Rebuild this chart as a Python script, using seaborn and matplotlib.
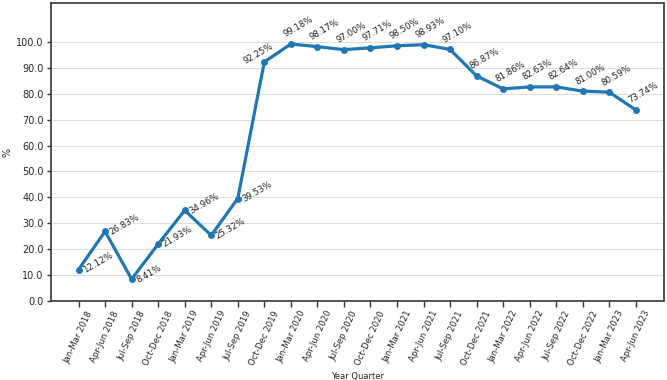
import matplotlib
matplotlib.use("Agg")
import matplotlib.pyplot as plt
import seaborn as sns
import pandas as pd
from matplotlib.ticker import FormatStrFormatter

quarters = ["Jan-Mar 2018", "Apr-Jun 2018", "Jul-Sep 2018", "Oct-Dec 2018",
            "Jan-Mar 2019", "Apr-Jun 2019", "Jul-Sep 2019", "Oct-Dec 2019",
            "Jan-Mar 2020", "Apr-Jun 2020", "Jul-Sep 2020", "Oct-Dec 2020",
            "Jan-Mar 2021", "Apr-Jun 2021", "Jul-Sep 2021", "Oct-Dec 2021",
            "Jan-Mar 2022", "Apr-Jun 2022", "Jul-Sep 2022", "Oct-Dec 2022",
            "Jan-Mar 2023", "Apr-Jun 2023"]
values = [12.12, 26.83, 8.41, 21.93, 34.96, 25.32, 39.53, 92.25,
          99.18, 98.17, 97.00, 97.71, 98.50, 98.93, 97.10, 86.87,
          81.86, 82.63, 82.64, 81.00, 80.59, 73.74]

df = pd.DataFrame({"quarter": quarters, "value": values})

sns.set_theme(style="whitegrid")
plt.rcParams['font.family'] = ['DejaVu Sans']

fig = plt.figure(figsize=(6.67, 3.8), dpi=100)
ax = fig.add_axes([0.076, 0.208, 0.919, 0.784])

x = list(range(len(quarters)))
sns.lineplot(x=x, y=df["value"], ax=ax, color="#1f77b4", linewidth=2.3,
             marker="o", markersize=5, markeredgewidth=0)

prev = None
for xi, v in zip(x, values):
    if v < 50:
        off = (4.6, -2.4)
    elif prev is not None and v - prev > 30:
        off = (-13.5, -1.5)
    else:
        off = (-4.0, 4.7)
    ax.annotate(f"{v:.2f}%", (xi, v), xytext=off, textcoords="offset points",
                rotation=30, fontsize=6.2, ha="left", va="baseline", color="#222222",
                rotation_mode="anchor")
    prev = v

ax.set_xticks(x)
ax.set_xticklabels(quarters, rotation=65, ha="center", fontsize=6.1)
ax.set_ylim(0, 115)
ax.set_yticks(range(0, 101, 10))
ax.yaxis.set_major_formatter(FormatStrFormatter("%.1f"))
ax.tick_params(axis="y", labelsize=7, left=True, length=3, width=1, color="#333333", pad=2)
ax.tick_params(axis="x", bottom=True, length=4, width=1, color="#333333", pad=2)
ax.grid(axis="x", visible=False)
ax.grid(axis="y", color="#dddddd", linewidth=0.8)
ax.set_xlabel("Year Quarter", fontsize=6)
ax.set_ylabel("%", fontsize=7)
ax.yaxis.set_label_coords(-0.062, 0.5)
for s in ax.spines.values():
    s.set_color("#444444")
    s.set_linewidth(1.3)

fig.savefig("out.png", dpi=100)
